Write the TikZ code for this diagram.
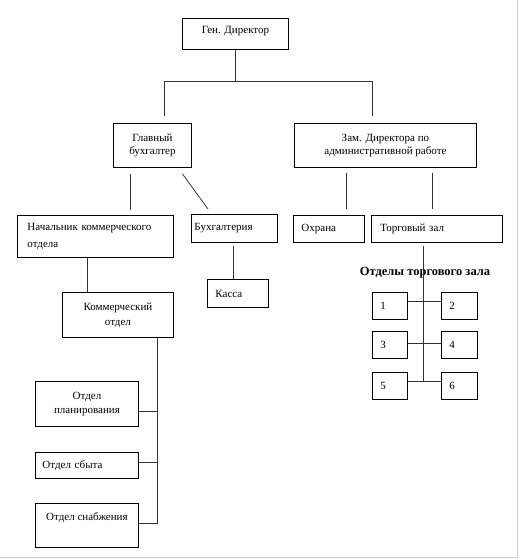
\documentclass[tikz,border=0pt]{standalone}
\usepackage{fontspec}
\setmainfont{Liberation Serif}
\begin{document}
		\begin{tikzpicture}[x=1pt,y=-1pt,
			box/.style={draw, line width=0.9pt, inner sep=0pt, anchor=north west, font=\fontsize{11}{13}\selectfont},
			cbox/.style={box, align=center},
			lbox/.style={box, align=left, inner xsep=#1},
			link/.style={line width=0.8pt, black!80}]
			\useasboundingbox (0,0) rectangle (520,559);
			\draw [black!20] (517,0) -- (517,557) -- (0,557);
			\node [cbox, minimum width=106, text height=15, text depth=16] (gen) at (182,18) {Ген. Директор};
			\node [cbox, minimum width=78, minimum height=44] (glbuh) at (113,123) {Главный\\бухгалтер};
			\node [cbox, minimum width=182, minimum height=44] (zam) at (294,123) {Зам. Директора по\\административной работе};
			\node [lbox=10pt, text width=136, minimum height=42] (nach) at (17,215) {Начальник коммерческого\\[4pt]отдела};
			\node [lbox=3pt, text width=80, minimum height=28] (buh) at (191,214) {Бухгалтерия};
			\node [lbox=8pt, text width=45, minimum height=28] (kassa) at (207,279) {Касса};
			\node [cbox, minimum width=111, minimum height=45] (komm) at (62,292) {Коммерческий\\[2pt]отдел};
			\node [cbox, minimum width=103, minimum height=45] (plan) at (35,381) {Отдел\\[1pt]планирования};
			\node [lbox=7pt, text width=89, minimum height=26] (sbyt) at (35,452) {Отдел сбыта};
			\node [cbox, minimum width=103, text height=17, text depth=27] (snab) at (35,503) {Отдел снабжения};
			\node [lbox=8pt, text width=55, minimum height=27] (ohr) at (293,215) {Охрана};
			\node [lbox=9pt, text width=113, minimum height=27] (torg) at (371,215) {Торговый зал};
			\node [font=\fontsize{12.5}{14}\selectfont\bfseries] (otd) at (425,273) {Отделы торгового зала};
			\node [lbox=8pt, text width=19, minimum height=27] (d1) at (372,292) {1};
			\node [lbox=8pt, text width=20, minimum height=27] (d2) at (441,292) {2};
			\node [lbox=8pt, text width=19, minimum height=27] (d3) at (372,331) {3};
			\node [lbox=8pt, text width=20, minimum height=27] (d4) at (441,331) {4};
			\node [lbox=8pt, text width=19, minimum height=27] (d5) at (372,372) {5};
			\node [lbox=8pt, text width=20, minimum height=27] (d6) at (441,372) {6};
			\draw [link] (gen.south) -- ++(0,32) coordinate (hub);
			\draw [link] ([xshift=12pt,yshift=7pt]glbuh.north) |- (hub) -| ([xshift=-13pt,yshift=7pt]zam.north);
			\draw [link] ([xshift=-22pt,yshift=-6pt]glbuh.south) -- ++(0,36);
			\draw [link] ([xshift=30pt,yshift=-6pt]glbuh.south) -- ([xshift=17pt,yshift=5pt]buh.north west);
			\draw [link] ([xshift=17.5pt,yshift=6pt]ohr.north) -- ++(0,-36);
			\draw [link] ([xshift=-4.5pt,yshift=6pt]torg.north) -- ++(0,-36);
			\draw [link] ([xshift=-1pt,yshift=-3pt]buh.south) -- ([xshift=-4.5pt]kassa.north);
			\draw [link] ([xshift=-8pt]nach.south) -- ([xshift=-30.5pt]komm.north);
			\draw [link] ([xshift=39.5pt]komm.south) coordinate (ks) |- ([yshift=2pt]snab.east);
			\foreach \n/\dy in {plan/-7.5, sbyt/3}
				\draw [link] ([yshift=\dy pt]\n.east) -| (ks);
			\draw [link] ([xshift=-13.5pt,yshift=-3pt]torg.south) |- ([yshift=4.5pt]d5.east);
			\foreach \a/\b/\dy in {d1/d2/4.5, d3/d4/1.5, d5/d6/4.5}
				\draw [link] ([yshift=\dy pt]\a.east) -- ([yshift=\dy pt]\b.west);
		\end{tikzpicture}
\end{document}
